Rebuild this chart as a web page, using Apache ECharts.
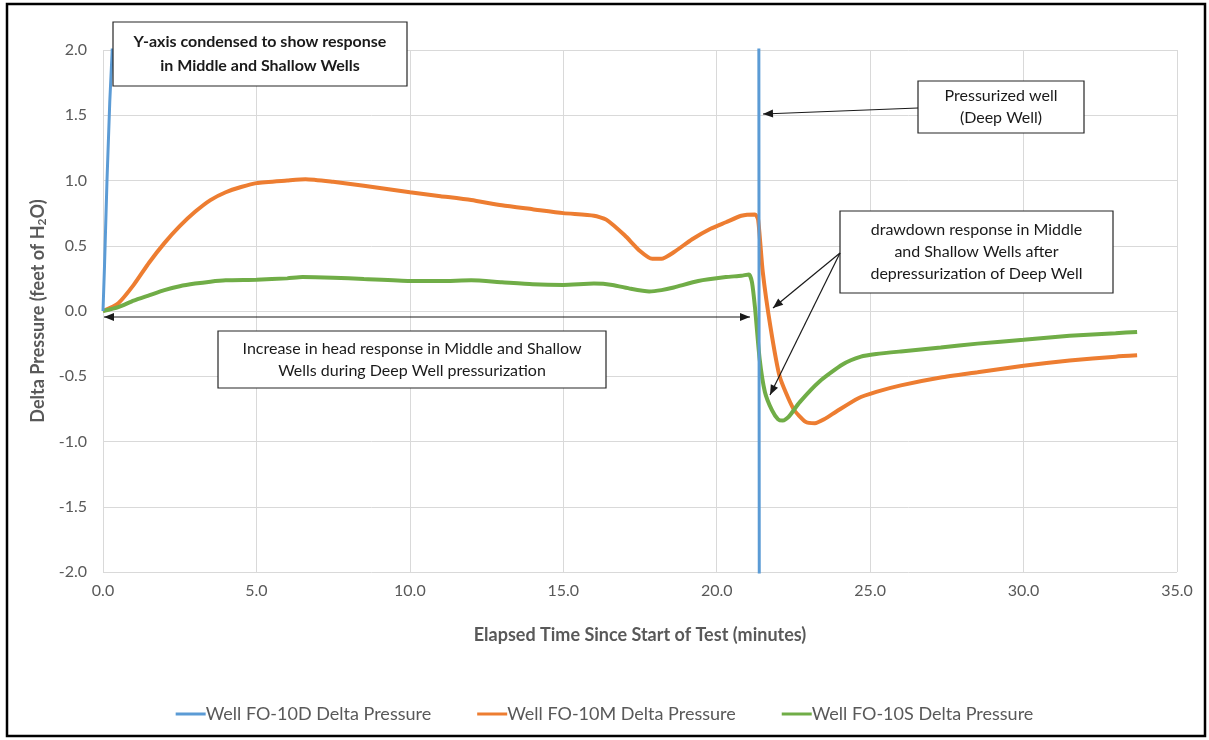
<!DOCTYPE html>
<html>
<head>
<meta charset="utf-8">
<script src="https://cdn.jsdelivr.net/npm/echarts@6/dist/echarts.min.js"></script>
<style>
  html, body { margin: 0; padding: 0; background: #fff; }
  #chart { width: 1209px; height: 740px; }
</style>
</head>
<body>
<div id="chart"></div>
<script>
// Elapsed time (minutes) and delta pressure (ft of H2O) for each well
const seriesNames = ['Well FO-10D Delta Pressure', 'Well FO-10M Delta Pressure', 'Well FO-10S Delta Pressure'];

// Deep well: climbs far off scale, then drops off scale at depressurization
const timeD  = [0, 0.05, 0.13, 0.22, 0.3, 0.45, 21.37, 21.39];
const pressD = [0, 0.35, 1.0, 1.6, 2.0, 3.0, 3.0, -3.0];

// Middle well
const timeM  = [0, 0.5, 1.0, 1.5, 2.0, 2.5, 3.0, 3.5, 4.0, 4.5, 5.0, 6.0, 6.6, 7.5, 8.5, 10.0, 11.0, 12.0, 13.0, 14.0, 15.0, 16.0, 16.4, 17.0, 17.5, 17.9, 18.2, 18.6, 19.2, 19.8, 20.3, 20.8, 21.25, 21.35, 21.5, 21.75, 22.05, 22.5, 22.9, 23.2, 23.5, 23.9, 24.6, 25.2, 26.0, 27.3, 28.5, 30.0, 31.5, 33.0, 33.7];
const pressM = [0, 0.06, 0.2, 0.37, 0.52, 0.65, 0.76, 0.85, 0.91, 0.95, 0.98, 1.0, 1.01, 0.99, 0.96, 0.91, 0.88, 0.85, 0.81, 0.78, 0.75, 0.73, 0.70, 0.58, 0.46, 0.40, 0.40, 0.45, 0.55, 0.63, 0.68, 0.73, 0.74, 0.70, 0.30, -0.12, -0.50, -0.75, -0.85, -0.86, -0.83, -0.77, -0.67, -0.62, -0.57, -0.51, -0.47, -0.42, -0.38, -0.35, -0.34];

// Shallow well
const timeS  = [0, 0.5, 1.0, 1.5, 2.0, 2.5, 3.0, 3.5, 4.0, 5.0, 6.0, 6.5, 7.5, 8.5, 10.0, 11.0, 12.0, 13.0, 14.0, 15.0, 16.0, 16.6, 17.2, 17.8, 18.2, 18.6, 19.4, 20.3, 20.8, 21.05, 21.15, 21.25, 21.4, 21.57, 21.8, 22.0, 22.15, 22.35, 22.7, 23.35, 24.1, 24.7, 25.2, 26.0, 27.3, 28.5, 30.0, 31.5, 33.0, 33.7];
const pressS = [0, 0.03, 0.08, 0.12, 0.16, 0.19, 0.21, 0.225, 0.235, 0.24, 0.25, 0.26, 0.255, 0.245, 0.23, 0.23, 0.235, 0.22, 0.205, 0.20, 0.21, 0.20, 0.17, 0.15, 0.16, 0.18, 0.23, 0.26, 0.27, 0.28, 0.22, 0.02, -0.37, -0.62, -0.76, -0.83, -0.84, -0.81, -0.70, -0.54, -0.41, -0.35, -0.33, -0.31, -0.28, -0.25, -0.22, -0.19, -0.17, -0.16];

// Axis ticks
const xTicks = { min: 0, max: 35, interval: 5 };
const yTicks = { min: -2, max: 2, interval: 0.5 };

const colors = ['#5B9BD5', '#ED7D31', '#70AD47'];
const zip = (t, v) => t.map((x, i) => [x, v[i]]);

const FONT = 'Lato, "Open Sans", sans-serif';
const labelGray = '#595959';
const gridGray = '#D9D9D9';

const chart = echarts.init(document.getElementById('chart'), null, { renderer: 'canvas' });

// Helpers for annotation boxes and arrows
function box(x, y, w, h, lines, bold) {
  return {
    type: 'group',
    children: [
      { type: 'rect', shape: { x: x, y: y, width: w, height: h },
        style: { fill: '#fff', stroke: '#262626', lineWidth: 1.2 }, z: 50 },
      { type: 'text', x: x + w / 2, y: y + h / 2, z: 51,
        style: { text: lines.join('\n'), align: 'center', verticalAlign: 'middle',
          font: (bold ? 'bold 16px ' : '16px ') + FONT, fill: '#1a1a1a', lineHeight: bold ? 24 : 22 } }
    ]
  };
}
function arrow(x1, y1, x2, y2, both) {
  const items = [{ type: 'line', shape: { x1: x1, y1: y1, x2: x2, y2: y2 },
    style: { stroke: '#1a1a1a', lineWidth: 1.2 }, z: 60 }];
  const head = (tx, ty, fx, fy) => {
    const a = Math.atan2(ty - fy, tx - fx), L = 10, W = 4;
    const bx = tx - L * Math.cos(a), by = ty - L * Math.sin(a);
    return { type: 'polygon', z: 61, shape: { points: [[tx, ty],
      [bx + W * Math.sin(a), by - W * Math.cos(a)], [bx - W * Math.sin(a), by + W * Math.cos(a)]] },
      style: { fill: '#1a1a1a' } };
  };
  items.push(head(x2, y2, x1, y1));
  if (both) items.push(head(x1, y1, x2, y2));
  return { type: 'group', children: items };
}

chart.setOption({
  backgroundColor: '#fff',
  animation: false,
  color: colors,
  textStyle: { fontFamily: FONT },
  grid: { left: 103, top: 50, width: 1074, height: 522, containLabel: false },
  xAxis: {
    type: 'value', min: xTicks.min, max: xTicks.max, interval: xTicks.interval,
    name: 'Elapsed Time Since Start of Test (minutes)', nameLocation: 'middle', nameGap: 54,
    nameTextStyle: { fontFamily: FONT, fontWeight: 'bold', fontSize: 18, color: labelGray },
    axisLine: { show: true, lineStyle: { color: gridGray } },
    axisTick: { show: false },
    splitLine: { show: true, lineStyle: { color: gridGray, width: 1 } },
    axisLabel: { color: labelGray, fontSize: 16, margin: 11, formatter: v => v.toFixed(1) }
  },
  yAxis: {
    type: 'value', min: yTicks.min, max: yTicks.max, interval: yTicks.interval,
    name: '{t|Delta Pressure (feet of H}{s|2}{t|O)}', nameLocation: 'middle', nameGap: 55, nameRotate: 90,
    nameTextStyle: { rich: {
      t: { fontFamily: FONT, fontWeight: 'bold', fontSize: 18, color: labelGray },
      s: { fontFamily: FONT, fontWeight: 'bold', fontSize: 12, color: labelGray, padding: [7, 0, 0, 0] }
    } },
    axisLine: { show: false },
    axisTick: { show: false },
    splitLine: { show: true, lineStyle: { color: gridGray, width: 1 } },
    axisLabel: { color: labelGray, fontSize: 16, margin: 16, formatter: v => v.toFixed(1) }
  },
  legend: {
    bottom: 12, left: 'center', itemGap: 46, itemWidth: 30, itemHeight: 3, icon: 'rect',
    textStyle: { color: labelGray, fontSize: 18, fontFamily: FONT, padding: [0, 0, 0, -5] },
    data: seriesNames
  },
  series: [
    { name: seriesNames[0], type: 'line', data: zip(timeD, pressD), showSymbol: false, symbol: 'none',
      lineStyle: { width: 3, color: colors[0] }, clip: true, z: 3 },
    { name: seriesNames[1], type: 'line', data: zip(timeM, pressM), showSymbol: false, symbol: 'none',
      smooth: 0.2, lineStyle: { width: 4, color: colors[1] }, clip: true, z: 2 },
    { name: seriesNames[2], type: 'line', data: zip(timeS, pressS), showSymbol: false, symbol: 'none',
      smooth: 0.2, lineStyle: { width: 4, color: colors[2] }, clip: true, z: 2 }
  ],
  graphic: [
    { type: 'rect', shape: { x: 7, y: 4, width: 1198, height: 732 },
      style: { fill: 'none', stroke: '#000', lineWidth: 2.5 }, z: 100 },
    box(113, 22, 294, 64, ['Y-axis condensed to show response', 'in Middle and Shallow Wells'], true),
    box(918, 81, 166, 52, ['Pressurized well', '(Deep Well)'], false),
    arrow(918, 108, 763, 114, false),
    box(840, 211, 273, 82, ['drawdown response in Middle', 'and Shallow Wells after', 'depressurization of Deep Well'], false),
    arrow(840, 253, 773, 308, false),
    arrow(840, 253, 770, 395, false),
    arrow(104, 317, 750, 317, true),
    box(218, 331, 388, 57, ['Increase in head response in Middle and Shallow', 'Wells during Deep Well pressurization'], false)
  ]
});
</script>
</body>
</html>
